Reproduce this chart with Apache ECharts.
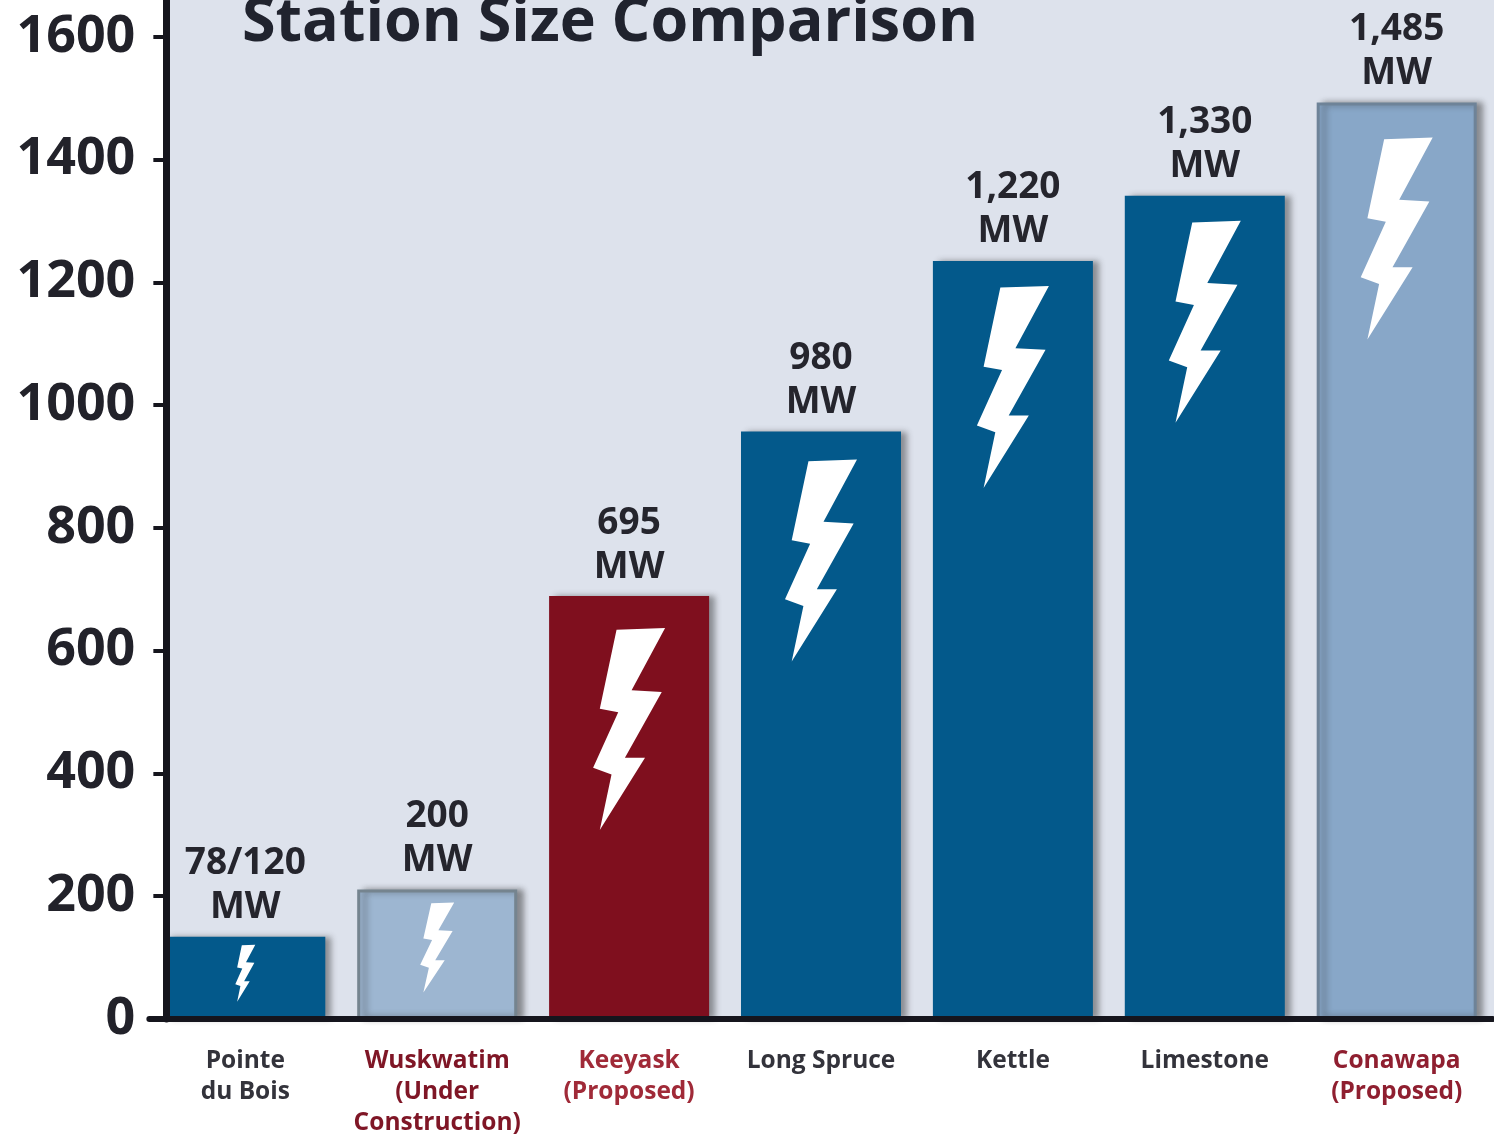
<!DOCTYPE html>
<html>
<head>
<meta charset="utf-8">
<style>html,body{margin:0;padding:0;background:#fff}#c{width:1494px;height:1136px}</style>
<script src="https://cdn.jsdelivr.net/npm/echarts@6/dist/echarts.min.js"></script>
</head>
<body>
<div id="c"></div>
<script>
const titleText = 'Station Size Comparison';
const categories = ['Pointe\ndu Bois', 'Wuskwatim\n(Under\nConstruction)', 'Keeyask\n(Proposed)', 'Long Spruce', 'Kettle', 'Limestone', 'Conawapa\n(Proposed)'];
const barHeights = [134, 211, 689, 957, 1235, 1341, 1493];
const mwLabels = ['78/120\nMW', '200\nMW', '695\nMW', '980\nMW', '1,220\nMW', '1,330\nMW', '1,485\nMW'];
const statusKinds = ['operating', 'construction', 'proposedNear', 'operating', 'operating', 'operating', 'proposedFar'];
const axisTicks = [0, 200, 400, 600, 800, 1000, 1200, 1400, 1600];

const BOLT = 'path://M70,5 L215,0 L115,185 L205,190 L95,385 L155,385 L20,600 L55,435 L0,415 L75,250 L20,240 Z';
const kindStyle = {
  operating: { color: '#03598b', borderWidth: 0, labelColor: '#33333b' },
  construction: { color: '#9db6d1', borderColor: '#75848f', borderWidth: 3, labelColor: '#7f1626' },
  proposedNear: { color: '#7f0f1e', borderWidth: 0, labelColor: '#a02a38' },
  proposedFar: { color: '#88a7c8', borderColor: '#6e8398', borderWidth: 3, labelColor: '#8f1f30' }
};
function boltStyle(v) {
  if (v < 150) return { size: [20, 57], drop: 8 };
  if (v < 300) return { size: [34, 90], drop: 13 };
  if (v < 700) return { size: [72, 202], drop: 32 };
  if (v < 1000) return { size: [72, 202], drop: 28 };
  if (v < 1400) return { size: [72, 202], drop: 25 };
  return { size: [72, 202], drop: 35 };
}

const chart = echarts.init(document.getElementById('c'), null, { renderer: 'canvas' });
const font = '"Open Sans", sans-serif';
chart.setOption({
  animation: false,
  backgroundColor: '#ffffff',
  title: {
    text: titleText, left: 237, top: -12,
    textStyle: { fontFamily: font, fontSize: 61, fontWeight: 'bold', color: '#20232e' }
  },
  graphic: [{
    type: 'rect', silent: true, z: -1,
    shape: { x: 166, y: 0, width: 1328, height: 1019 },
    style: { fill: '#dde2ec' }
  }],
  grid: { left: 149.35, width: 1343.3, top: 0, height: 1019, outerBoundsMode: 'none' },
  xAxis: {
    type: 'category', data: categories, z: 10,
    axisLine: { lineStyle: { color: '#15151d', width: 6 } },
    axisTick: { show: false },
    axisLabel: {
      margin: 27, interval: 0, fontFamily: font, fontSize: 24.5, fontWeight: 'bold',
      lineHeight: 31, letterSpacing: -2,
      color: (val, i) => kindStyle[statusKinds[i]].labelColor
    }
  },
  yAxis: {
    type: 'value', min: 0, max: 1660, offset: -17, z: 10,
    axisLine: { show: true, lineStyle: { color: '#15151d', width: 7 } },
    axisTick: { show: true, length: 13, lineStyle: { color: '#15151d', width: 4 }, customValues: axisTicks },
    splitLine: { show: false },
    axisLabel: { margin: 31, fontFamily: font, fontSize: 52, fontWeight: 'bold', color: '#22222a', letterSpacing: 1.5,
      customValues: axisTicks, formatter: v => String(v) }
  },
  series: [{
    type: 'bar', barWidth: 160, barGap: '-100%',
    data: barHeights.map((v, i) => {
      const k = kindStyle[statusKinds[i]];
      return {
        value: v,
        itemStyle: { color: k.color, borderColor: k.borderColor, borderWidth: k.borderWidth,
          shadowColor: 'rgba(40,40,40,0.45)', shadowBlur: 6, shadowOffsetX: 6, shadowOffsetY: 0 },
        label: {
          show: true, position: 'top', distance: 7, formatter: mwLabels[i],
          fontFamily: font, fontSize: 37, fontWeight: 'bold', lineHeight: 44,
          letterSpacing: -1.8, color: '#25252d'
        }
      };
    })
  }, {
    type: 'pictorialBar', barWidth: 160, barGap: '-100%', z: 5,
    symbol: BOLT, symbolPosition: 'end',
    itemStyle: { color: '#ffffff' },
    data: barHeights.map(v => {
      const b = boltStyle(v);
      return { value: v, symbolSize: b.size, symbolOffset: [0, b.drop] };
    })
  }]
});
</script>
</body>
</html>
